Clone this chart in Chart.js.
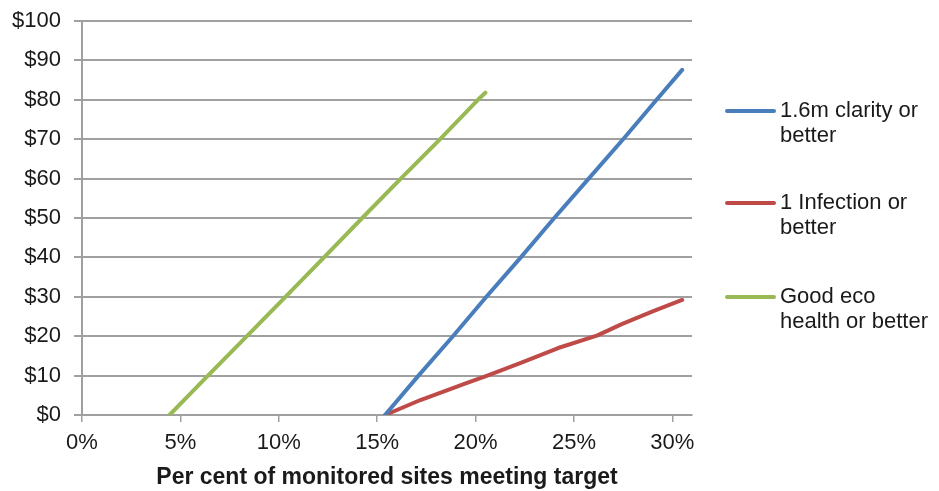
<!DOCTYPE html>
<html>
<head>
<meta charset="utf-8">
<script src="https://cdn.jsdelivr.net/npm/chart.js@4/dist/chart.umd.min.js"></script>
<style>
  html, body { margin: 0; padding: 0; background: #fff; }
  #wrap { width: 939px; height: 491px; position: relative; }
</style>
</head>
<body>
<div id="wrap"><canvas id="costChart"></canvas></div>
<script>
// dados (x = % de locais, y = custo em $)
const seriesNames = [["1.6m clarity or", "better"], ["1 Infection or", "better"], ["Good eco", "health or better"]];
const seriesColors = ["#4a7ebb", "#be4b48", "#98b954"];

const clarityX = [15.4, 17.1, 18.85, 20.55, 22.3, 24.0, 25.75, 27.5, 29.2, 30.5];
const clarityY = [0, 10, 20, 30, 40, 50, 60, 70, 80, 87.6];

const infectionX = [15.4, 17.2, 19.5, 20.6, 22.3, 24.2, 26.2, 27.4, 29.0, 30.5];
const infectionY = [0, 3.8, 8, 10, 13.2, 17, 20.2, 23, 26.3, 29.2];

const ecoX = [4.45, 6.4, 8.38, 10.34, 12.3, 14.24, 16.2, 18.2, 20.12, 20.5];
const ecoY = [0, 10, 20, 30, 40, 50, 60, 70, 80, 81.8];

const xTicks = [0, 5, 10, 15, 20, 25, 30];
const yTicks = [0, 10, 20, 30, 40, 50, 60, 70, 80, 90, 100];

const xTitle = "Per cent of monitored sites meeting target";

// monta os pontos {x, y}
function toPoints(xs, ys) {
    return xs.map((x, i) => ({ x: x, y: ys[i] }));
}

const textColor = "#1a1a1a";
const gridColor = "#a0a0a0";
const fontFamily = "'Liberation Sans', Arial, sans-serif";

// legenda desenhada à direita (texto em duas linhas)
const sideLegend = {
    id: "sideLegend",
    afterDraw(chart) {
        const ctx = chart.ctx;
        const area = chart.chartArea;
        const x0 = area.right + 35;
        const rowsY = [111, 203, 297];
        ctx.save();
        ctx.font = "22px " + fontFamily;
        ctx.textBaseline = "middle";
        ctx.textAlign = "left";
        seriesNames.forEach((lines, i) => {
            const y = rowsY[i];
            ctx.strokeStyle = seriesColors[i];
            ctx.lineWidth = 4;
            ctx.lineCap = "round";
            ctx.beginPath();
            ctx.moveTo(x0, y);
            ctx.lineTo(x0 + 47, y);
            ctx.stroke();
            ctx.fillStyle = textColor;
            lines.forEach((t, j) => ctx.fillText(t, x0 + 53, y + j * 25));
        });
        ctx.restore();
    }
};

const datasets = [
    toPoints(clarityX, clarityY),
    toPoints(infectionX, infectionY),
    toPoints(ecoX, ecoY)
].map((pts, i) => ({
    label: seriesNames[i].join(" "),
    data: pts,
    borderColor: seriesColors[i],
    backgroundColor: seriesColors[i],
    borderWidth: 4,
    borderCapStyle: "round",
    borderJoinStyle: "round",
    pointRadius: 0,
    showLine: true,
    fill: false,
    tension: 0
}));

const costChart = new Chart(document.getElementById("costChart").getContext("2d"), {
    type: "scatter",
    data: { datasets: datasets },
    plugins: [sideLegend],
    options: {
        responsive: true,
        maintainAspectRatio: false,
        animation: false,
        layout: { padding: { top: 21, right: 247, left: 0, bottom: 0 } },
        plugins: {
            legend: { display: false },
            tooltip: { enabled: false }
        },
        scales: {
            x: {
                type: "linear",
                min: 0,
                max: 31,
                afterBuildTicks: (axis) => { axis.ticks = xTicks.map(v => ({ value: v })); },
                afterFit: (axis) => { axis.height = 76; },
                grid: { drawOnChartArea: false, drawTicks: true, tickLength: 7, color: gridColor, lineWidth: 1.5 },
                border: { display: true, color: gridColor, width: 2 },
                ticks: {
                    color: textColor,
                    font: { family: fontFamily, size: 22 },
                    padding: 8,
                    maxRotation: 0,
                    callback: (v) => v + "%"
                },
                title: {
                    display: true,
                    text: xTitle,
                    color: textColor,
                    font: { family: fontFamily, size: 23, weight: "bold" },
                    padding: { top: 0, bottom: 0 }
                }
            },
            y: {
                type: "linear",
                min: 0,
                max: 100,
                afterBuildTicks: (axis) => { axis.ticks = yTicks.map(v => ({ value: v })); },
                // largura fixa e sem folga extra no topo
                afterFit: (axis) => { axis.width = 82; axis.paddingTop = 12; axis.paddingBottom = 0; },
                grid: { drawTicks: true, tickLength: 8, color: gridColor, lineWidth: 2 },
                border: { display: true, color: gridColor, width: 2 },
                ticks: {
                    color: textColor,
                    font: { family: fontFamily, size: 22 },
                    padding: 13,
                    callback: (v) => "$" + v
                }
            }
        }
    }
});
</script>
</body>
</html>
